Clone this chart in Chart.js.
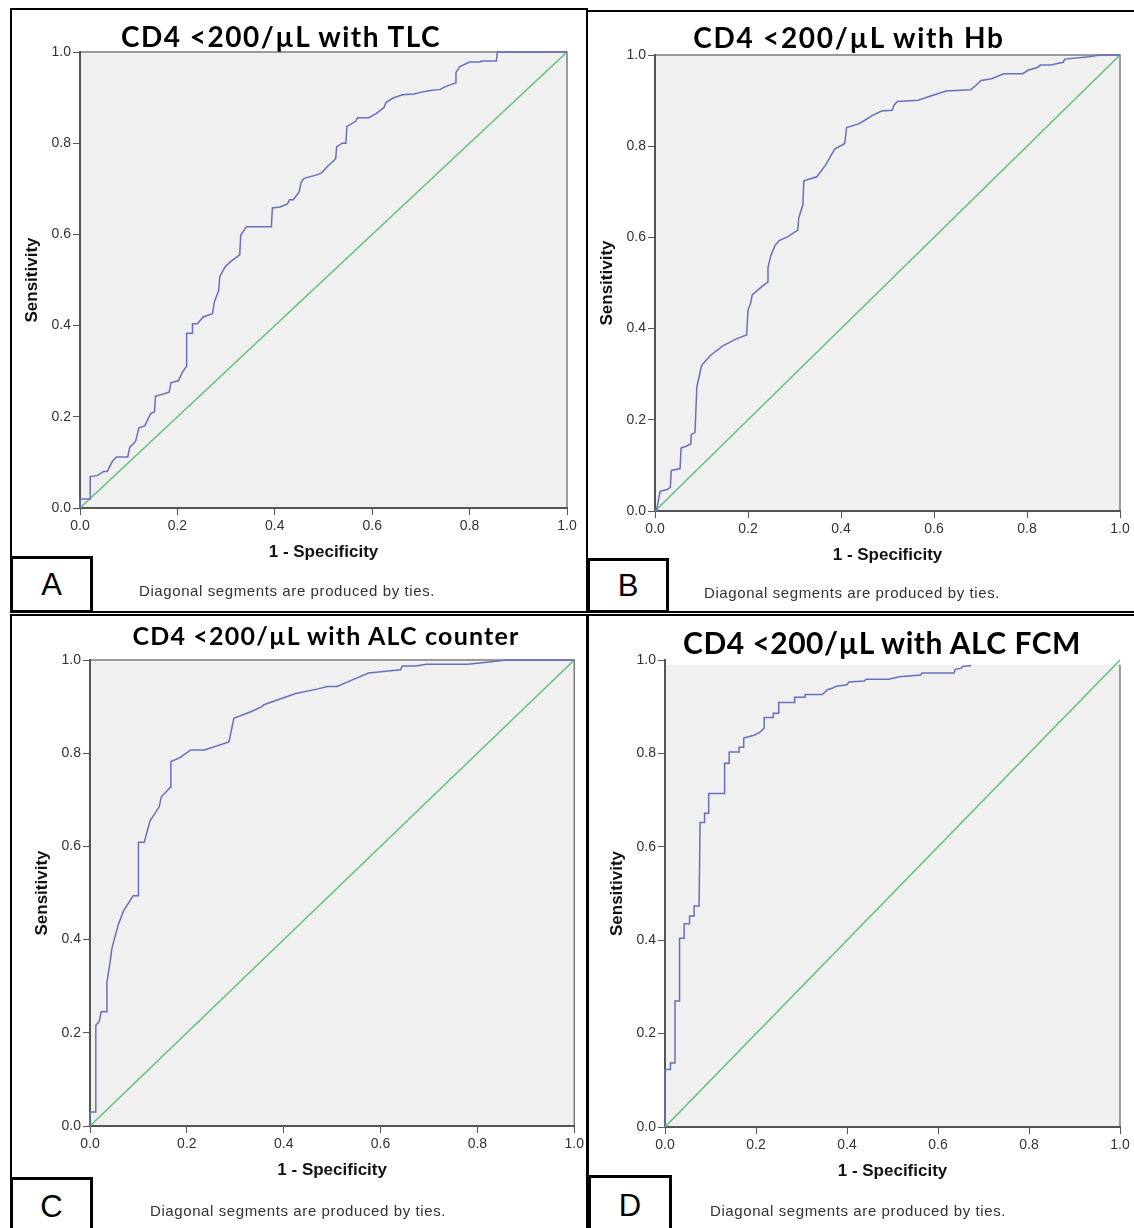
<!DOCTYPE html>
<html>
<head>
<meta charset="utf-8">
<script src="https://cdn.jsdelivr.net/npm/chart.js@4.4.1/dist/chart.umd.min.js"></script>
<style>
  html, body { margin: 0; padding: 0; background: #fff; }
  body { width: 1134px; height: 1228px; position: relative; overflow: hidden; font-family: "Liberation Sans", Arial, sans-serif; }
  .frame { position: absolute; border: 2px solid #000; box-sizing: border-box; }
  .cv { position: absolute; }
  .title { position: absolute; transform: translateX(-50%); white-space: nowrap; font-family: Lato, "Open Sans", sans-serif; font-weight: 700; color: #000; line-height: 1; }
  .note { position: absolute; transform: translateX(-50%); white-space: nowrap; font-size: 15px; letter-spacing: 0.6px; color: #333; line-height: 1; }
  .tag { position: absolute; border: 3px solid #000; box-sizing: border-box; background: #fff; font-size: 31px; display: flex; align-items: center; justify-content: center; color: #000; }
</style>
</head>
<body>
<div class="frame" style="left:10px;top:8px;width:578px;height:605px"></div>
<div class="frame" style="left:586px;top:10px;width:560px;height:603px"></div>
<div class="frame" style="left:10px;top:614px;width:578px;height:630px"></div>
<div class="frame" style="left:587px;top:614px;width:560px;height:630px"></div>

<canvas id="chartA" class="cv" style="left:0;top:0" width="587" height="612"></canvas>
<canvas id="chartB" class="cv" style="left:587px;top:0" width="547" height="612"></canvas>
<canvas id="chartC" class="cv" style="left:0;top:612px" width="587" height="616"></canvas>
<canvas id="chartD" class="cv" style="left:587px;top:612px" width="547" height="616"></canvas>

<div class="title" style="left:281px;top:22px;font-size:28px;letter-spacing:1.5px">CD4 &lt;200/µL with TLC</div>
<div class="title" style="left:849px;top:23px;font-size:28px;letter-spacing:1.7px">CD4 &lt;200/µL with Hb</div>
<div class="title" style="left:326px;top:623px;font-size:25px;letter-spacing:1.2px">CD4 &lt;200/µL with ALC counter</div>
<div class="title" style="left:882px;top:627px;font-size:30px;letter-spacing:0.5px">CD4 &lt;200/µL with ALC FCM</div>

<div class="note" style="left:287px;top:583px">Diagonal segments are produced by ties.</div>
<div class="note" style="left:852px;top:585px">Diagonal segments are produced by ties.</div>
<div class="note" style="left:298px;top:1203px">Diagonal segments are produced by ties.</div>
<div class="note" style="left:858px;top:1203px">Diagonal segments are produced by ties.</div>

<div class="tag" style="left:10px;top:556px;width:83px;height:57px">A</div>
<div class="tag" style="left:587px;top:558px;width:82px;height:55px">B</div>
<div class="tag" style="left:10px;top:1177px;width:83px;height:60px">C</div>
<div class="tag" style="left:588px;top:1175px;width:84px;height:62px">D</div>

<script>
const tickLabels = ['0.0', '0.2', '0.4', '0.6', '0.8', '1.0'];
const refLine = [0, 1];

// TLC
const fprA = [0, 0, 0.021, 0.021, 0.035, 0.044, 0.048, 0.056, 0.06, 0.067, 0.075, 0.098, 0.102, 0.114, 0.121, 0.133, 0.145, 0.153, 0.155, 0.183, 0.187, 0.202, 0.21, 0.218, 0.219, 0.23, 0.231, 0.241, 0.253, 0.272, 0.276, 0.285, 0.287, 0.298, 0.311, 0.328, 0.33, 0.342, 0.393, 0.395, 0.411, 0.426, 0.43, 0.438, 0.45, 0.454, 0.46, 0.488, 0.496, 0.508, 0.525, 0.527, 0.538, 0.546, 0.548, 0.566, 0.57, 0.593, 0.608, 0.624, 0.628, 0.643, 0.662, 0.686, 0.701, 0.716, 0.74, 0.748, 0.763, 0.771, 0.772, 0.78, 0.8, 0.821, 0.825, 0.855, 0.857, 1];
const tprA = [0, 0.02, 0.02, 0.069, 0.071, 0.077, 0.08, 0.08, 0.089, 0.103, 0.112, 0.112, 0.133, 0.146, 0.176, 0.18, 0.207, 0.211, 0.245, 0.254, 0.275, 0.279, 0.297, 0.31, 0.383, 0.383, 0.404, 0.404, 0.419, 0.426, 0.452, 0.478, 0.508, 0.529, 0.542, 0.555, 0.598, 0.617, 0.617, 0.658, 0.66, 0.667, 0.676, 0.676, 0.693, 0.714, 0.723, 0.731, 0.735, 0.749, 0.766, 0.792, 0.8, 0.8, 0.837, 0.848, 0.856, 0.856, 0.865, 0.878, 0.889, 0.899, 0.906, 0.908, 0.912, 0.915, 0.918, 0.923, 0.929, 0.932, 0.955, 0.968, 0.978, 0.978, 0.98, 0.98, 1, 1];

// Hb
const fprB = [0, 0.003, 0.011, 0.026, 0.033, 0.035, 0.054, 0.056, 0.067, 0.077, 0.078, 0.086, 0.09, 0.1, 0.119, 0.146, 0.176, 0.197, 0.2, 0.206, 0.209, 0.224, 0.242, 0.243, 0.249, 0.258, 0.267, 0.285, 0.307, 0.309, 0.318, 0.32, 0.348, 0.367, 0.386, 0.408, 0.412, 0.438, 0.453, 0.465, 0.487, 0.51, 0.514, 0.521, 0.566, 0.596, 0.626, 0.679, 0.69, 0.701, 0.724, 0.75, 0.791, 0.803, 0.821, 0.829, 0.851, 0.878, 0.881, 0.934, 0.956, 1];
const tprB = [0, 0, 0.043, 0.047, 0.052, 0.089, 0.093, 0.138, 0.142, 0.147, 0.168, 0.172, 0.272, 0.319, 0.341, 0.362, 0.378, 0.386, 0.44, 0.457, 0.474, 0.487, 0.502, 0.534, 0.56, 0.582, 0.593, 0.601, 0.616, 0.642, 0.672, 0.724, 0.733, 0.759, 0.793, 0.806, 0.841, 0.849, 0.858, 0.866, 0.877, 0.879, 0.89, 0.898, 0.901, 0.911, 0.921, 0.924, 0.933, 0.944, 0.948, 0.959, 0.959, 0.967, 0.972, 0.978, 0.978, 0.984, 0.991, 0.996, 1, 1];

// ALC counter
const fprC = [0, 0, 0.012, 0.012, 0.019, 0.023, 0.035, 0.035, 0.042, 0.045, 0.058, 0.069, 0.089, 0.1, 0.1, 0.112, 0.124, 0.143, 0.147, 0.166, 0.167, 0.185, 0.208, 0.236, 0.287, 0.297, 0.332, 0.355, 0.359, 0.394, 0.425, 0.471, 0.49, 0.51, 0.548, 0.575, 0.641, 0.645, 0.672, 0.695, 0.78, 0.819, 0.861, 1];
const tprC = [0, 0.03, 0.03, 0.216, 0.224, 0.245, 0.245, 0.309, 0.355, 0.38, 0.431, 0.461, 0.494, 0.494, 0.609, 0.609, 0.655, 0.685, 0.706, 0.727, 0.782, 0.79, 0.807, 0.807, 0.824, 0.875, 0.889, 0.9, 0.904, 0.917, 0.928, 0.938, 0.943, 0.943, 0.96, 0.972, 0.979, 0.987, 0.987, 0.991, 0.991, 0.995, 1, 1];

// ALC FCM
const fprD = [0, 0, 0.012, 0.012, 0.022, 0.022, 0.032, 0.032, 0.042, 0.042, 0.054, 0.054, 0.064, 0.064, 0.075, 0.077, 0.087, 0.087, 0.096, 0.096, 0.131, 0.131, 0.141, 0.141, 0.163, 0.163, 0.173, 0.173, 0.185, 0.196, 0.208, 0.218, 0.218, 0.238, 0.238, 0.25, 0.25, 0.285, 0.285, 0.308, 0.308, 0.346, 0.35, 0.358, 0.369, 0.377, 0.4, 0.404, 0.438, 0.442, 0.492, 0.515, 0.562, 0.565, 0.635, 0.638, 0.65, 0.654, 0.673];
const tprD = [0, 0.123, 0.123, 0.137, 0.137, 0.27, 0.27, 0.404, 0.404, 0.435, 0.435, 0.452, 0.452, 0.473, 0.473, 0.652, 0.652, 0.672, 0.672, 0.714, 0.714, 0.779, 0.779, 0.803, 0.803, 0.813, 0.813, 0.833, 0.836, 0.839, 0.845, 0.854, 0.877, 0.877, 0.886, 0.886, 0.909, 0.909, 0.92, 0.92, 0.926, 0.926, 0.93, 0.937, 0.94, 0.944, 0.947, 0.953, 0.955, 0.959, 0.959, 0.964, 0.968, 0.972, 0.972, 0.98, 0.982, 0.986, 0.988];

const tickFont = { family: '"Liberation Sans", Arial, sans-serif', size: 14 };
const titleFont = { family: '"Liberation Sans", Arial, sans-serif', size: 17, weight: 'bold' };

function pts(xs, ys) {
    return xs.map((x, i) => ({ x: x, y: ys[i] }));
}

// grey plot background plus the thin top/right frame
const plotFrame = {
    id: 'plotFrame',
    beforeDraw(chart, args, opts) {
        const { ctx, chartArea: a } = chart;
        const top = chart.scales.y.getPixelForValue(opts.bgTop);
        ctx.save();
        ctx.fillStyle = '#f0f0f0';
        ctx.fillRect(a.left, top, a.right - a.left, a.bottom - top);
        ctx.strokeStyle = '#7c7c7c';
        ctx.lineWidth = 1.5;
        ctx.beginPath();
        if (opts.topLine) {
            ctx.moveTo(a.left, top);
            ctx.lineTo(a.right, top);
        } else {
            ctx.moveTo(a.right, top);
        }
        ctx.lineTo(a.right, a.bottom);
        ctx.stroke();
        ctx.restore();
    }
};

function axis(title, fit) {
    return {
        type: 'linear',
        min: 0,
        max: 1,
        afterFit: fit,
        ticks: {
            stepSize: 0.2,
            autoSkip: false,
            maxRotation: 0,
            padding: 2,
            color: '#333',
            font: tickFont,
            callback: (v, i) => tickLabels[i]
        },
        grid: { drawOnChartArea: false, drawTicks: true, tickLength: 7, color: '#555', lineWidth: 1 },
        border: { color: '#555', width: 2 },
        title: { display: true, text: title, color: '#111', font: titleFont, padding: 0 }
    };
}

const panels = [
    { id: 'chartA', fpr: fprA, tpr: tprA, pad: { left: 22, top: 52, right: 20, bottom: 49 }, bgTop: 1, topLine: true },
    { id: 'chartB', fpr: fprB, tpr: tprB, pad: { left: 10, top: 55, right: 14, bottom: 46 }, bgTop: 1, topLine: true },
    { id: 'chartC', fpr: fprC, tpr: tprC, pad: { left: 32, top: 48, right: 10, bottom: 47 }, bgTop: 1, topLine: true },
    { id: 'chartD', fpr: fprD, tpr: tprD, pad: { left: 20, top: 48, right: 14, bottom: 46 }, bgTop: 0.99, topLine: false }
];

panels.forEach(p => {
    const xAxis = axis('1 - Specificity', s => { s.height = 55; });
    xAxis.ticks.padding = 3;
    const yAxis = axis('Sensitivity', s => { s.width = 58; });

    new Chart(document.getElementById(p.id), {
        type: 'scatter',
        data: {
            datasets: [
                {
                    data: pts(p.fpr, p.tpr),
                    showLine: true,
                    borderColor: '#6870bd',
                    borderWidth: 1.5,
                    pointRadius: 0,
                    tension: 0,
                    clip: 3
                },
                {
                    data: pts(refLine, refLine),
                    showLine: true,
                    borderColor: '#5fc27a',
                    borderWidth: 1.5,
                    pointRadius: 0,
                    clip: 3
                }
            ]
        },
        options: {
            responsive: false,
            animation: false,
            events: [],
            layout: { padding: p.pad },
            scales: { x: xAxis, y: yAxis },
            plugins: {
                legend: { display: false },
                tooltip: { enabled: false },
                plotFrame: { bgTop: p.bgTop, topLine: p.topLine }
            }
        },
        plugins: [plotFrame]
    });
});
</script>
</body>
</html>
